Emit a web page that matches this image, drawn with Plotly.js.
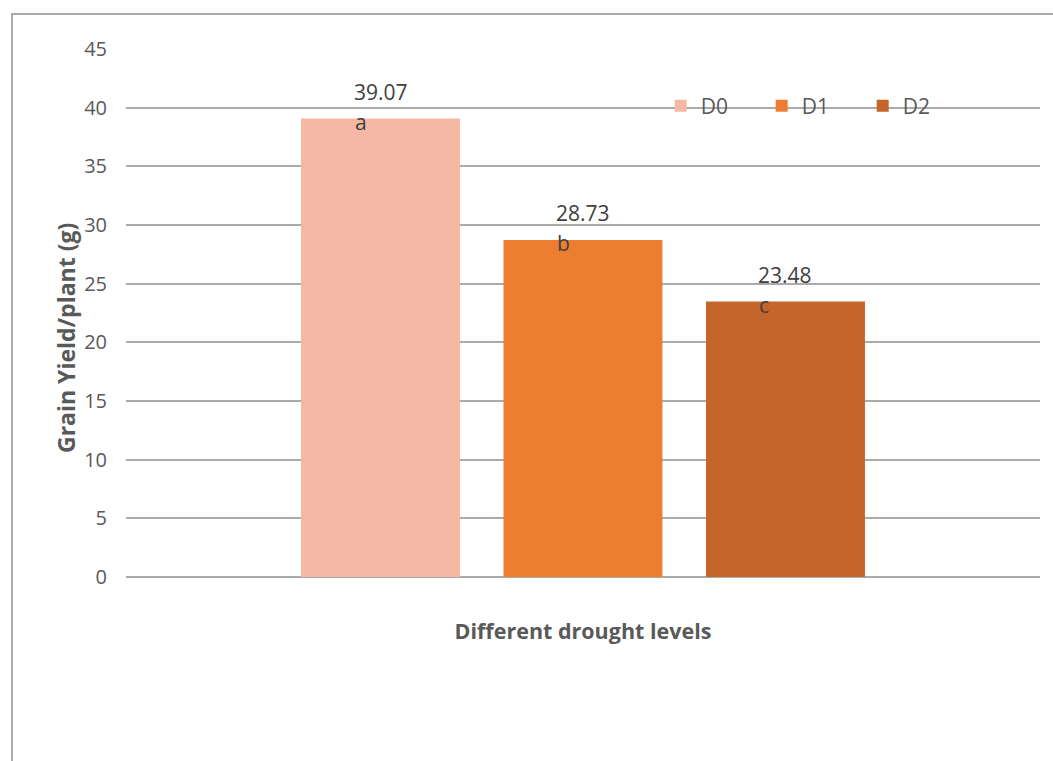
<!DOCTYPE html>
<html>
<head>
<meta charset="utf-8">
<script src="https://cdn.plot.ly/plotly-3.0.1.min.js"></script>
<style>
  html, body { margin: 0; padding: 0; background: #ffffff; }
  #frame {
    position: absolute; left: 11px; top: 13px; width: 1100px; height: 800px;
    border-left: 2px solid #ababab; border-top: 2px solid #ababab;
  }
  #chart { position: absolute; left: 0; top: 0; width: 1053px; height: 761px; }
</style>
</head>
<body>
<div id="frame"></div>
<div id="chart"></div>
<script>
// Drought treatments and mean grain yield per plant (g)
const levels = ['D0', 'D1', 'D2'];
const grainYield = [39.07, 28.73, 23.48];
const groupLetters = ['a', 'b', 'c'];
const barColors = ['#F4B8A5', '#ED7D31', '#C4652A'];

const FONT = '"Open Sans", "DejaVu Sans", sans-serif';
const GREY = '#595959';
const LABEL_GREY = '#404040';

const traces = levels.map((lvl, i) => ({
  type: 'bar',
  name: lvl,
  x: [lvl],
  y: [grainYield[i]],
  width: 0.785,
  marker: { color: barColors[i] },
  hoverinfo: 'name+y'
}));

// value above each bar, significance letter just under the bar top
const valueLabels = levels.map((lvl, i) => ({
  x: lvl, y: grainYield[i], xref: 'x', yref: 'y',
  text: grainYield[i].toFixed(2),
  showarrow: false,
  xanchor: 'center', yanchor: 'middle',
  yshift: 27,
  font: { family: FONT, size: 21, color: LABEL_GREY }
}));
const letterLabels = levels.map((lvl, i) => ({
  x: lvl, y: grainYield[i], xref: 'x', yref: 'y',
  text: groupLetters[i],
  showarrow: false,
  xanchor: 'left', yanchor: 'middle',
  xshift: -28, yshift: -3,
  font: { family: FONT, size: 21, color: LABEL_GREY }
}));
const yTitle = {
  xref: 'paper', yref: 'paper',
  x: -0.0656, y: 0.4527,
  text: '<b>Grain Yield/plant (g)</b>',
  textangle: -90,
  showarrow: false,
  xanchor: 'center', yanchor: 'middle',
  font: { family: FONT, size: 23, color: GREY }
};

const layout = {
  width: 1053,
  height: 761,
  margin: { l: 126, r: 13, t: 49, b: 184, autoexpand: false },
  paper_bgcolor: 'rgba(0,0,0,0)',
  plot_bgcolor: 'rgba(0,0,0,0)',
  barmode: 'overlay',
  showlegend: true,
  font: { family: FONT, color: GREY },
  xaxis: {
    type: 'category',
    categoryorder: 'array',
    categoryarray: levels,
    range: [-1.257, 3.257],
    showticklabels: false,
    showgrid: false,
    zeroline: false,
    ticks: '',
    title: {
      text: '<b>Different drought levels</b>',
      font: { family: FONT, size: 21.5, color: GREY },
      standoff: 46
    }
  },
  yaxis: {
    range: [0, 45],
    dtick: 5,
    tick0: 0,
    showgrid: true,
    gridcolor: '#ababab',
    gridwidth: 2,
    zeroline: true,
    zerolinecolor: '#ababab',
    zerolinewidth: 2,
    ticks: '',
    ticklabelstandoff: 18,
    tickfont: { family: FONT, size: 20, color: GREY }
  },
  legend: {
    orientation: 'h',
    xref: 'paper', yref: 'paper',
    x: 0.585,
    y: 0.892,
    xanchor: 'left',
    yanchor: 'middle',
    bgcolor: 'rgba(0,0,0,0)',
    entrywidth: 56,
    entrywidthmode: 'pixels',
    font: { family: FONT, size: 21, color: GREY }
  },
  annotations: valueLabels.concat(letterLabels, [yTitle])
};

Plotly.newPlot('chart', traces, layout, { displayModeBar: false, staticPlot: true });
</script>
</body>
</html>
